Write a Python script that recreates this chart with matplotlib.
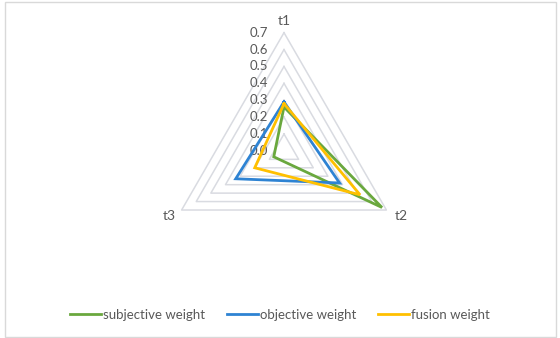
import numpy as np
import matplotlib.pyplot as plt
from matplotlib.patches import Rectangle

# data
categories = ["t1", "t2", "t3"]
subjective = [0.26, 0.67, 0.07]
objective = [0.29, 0.38, 0.33]
fusion = [0.28, 0.52, 0.20]
rings = [0.1, 0.2, 0.3, 0.4, 0.5, 0.6, 0.7]
tick_labels = ["0.0", "0.1", "0.2", "0.3", "0.4", "0.5", "0.6", "0.7"]

W, H = 560, 338
S = 168.9          # pixels per unit radius
cx, cy = 284, 150.9  # centre in pixels (from top)

fig = plt.figure(figsize=(W / 100, H / 100), dpi=100)
fig.patch.set_facecolor("white")
ax = fig.add_axes([0, 0, 1, 1])
ax.set_xlim(-cx / S, (W - cx) / S)
ax.set_ylim(-(H - cy) / S, cy / S)
ax.axis("off")

plt.rcParams["font.family"] = ["Lato", "DejaVu Sans"]
txt_color = "#595959"

# angles: t1 top, then clockwise
ang = np.deg2rad([90, -30, 210])


def closed(vals):
    v = np.asarray(vals, dtype=float)
    x = v * np.cos(ang)
    y = v * np.sin(ang)
    return np.append(x, x[0]), np.append(y, y[0])


# grid rings
for r in rings:
    gx, gy = closed([r] * 3)
    ax.plot(gx, gy, color="#D9DBE1", lw=1.1, zorder=1)

# radial tick labels
for i, lab in enumerate(tick_labels):
    ax.text(-16 / S, i * 0.1, lab, ha="right", va="center",
            fontsize=9.5, color=txt_color, zorder=2)

# category labels
for a, lab, ha, va, dx, dy in zip(ang, categories,
                                  ["center", "left", "right"],
                                  ["bottom", "top", "top"],
                                  [0, 8, -6], [6, 0, 0]):
    r = 0.7
    ax.annotate(lab, (r * np.cos(a), r * np.sin(a)), xytext=(dx, dy),
                textcoords="offset pixels", ha=ha, va=va,
                fontsize=10, color=txt_color)

series = [("subjective weight", subjective, "#6AA83E"),
          ("objective weight", objective, "#2E83D3"),
          ("fusion weight", fusion, "#FFC000")]
handles = []
for name, vals, col in series:
    sx, sy = closed(vals)
    ln, = ax.plot(sx, sy, color=col, lw=2.0, label=name, zorder=3,
                  solid_joinstyle="miter")
    handles.append(ln)

fig.legend(handles=handles, loc="center", bbox_to_anchor=(0.5, 1 - 315 / H),
           ncol=3, frameon=False, fontsize=9.5, handlelength=2.3,
           handletextpad=0.15, columnspacing=1.7, labelcolor=txt_color)

# chart border
fig.patches.append(Rectangle((5 / W, 1.5 / H), 551 / W, 334.5 / H,
                             transform=fig.transFigure, fill=False,
                             edgecolor="#D9D9D9", lw=1))

fig.savefig("out.png", dpi=100)
plt.close(fig)
